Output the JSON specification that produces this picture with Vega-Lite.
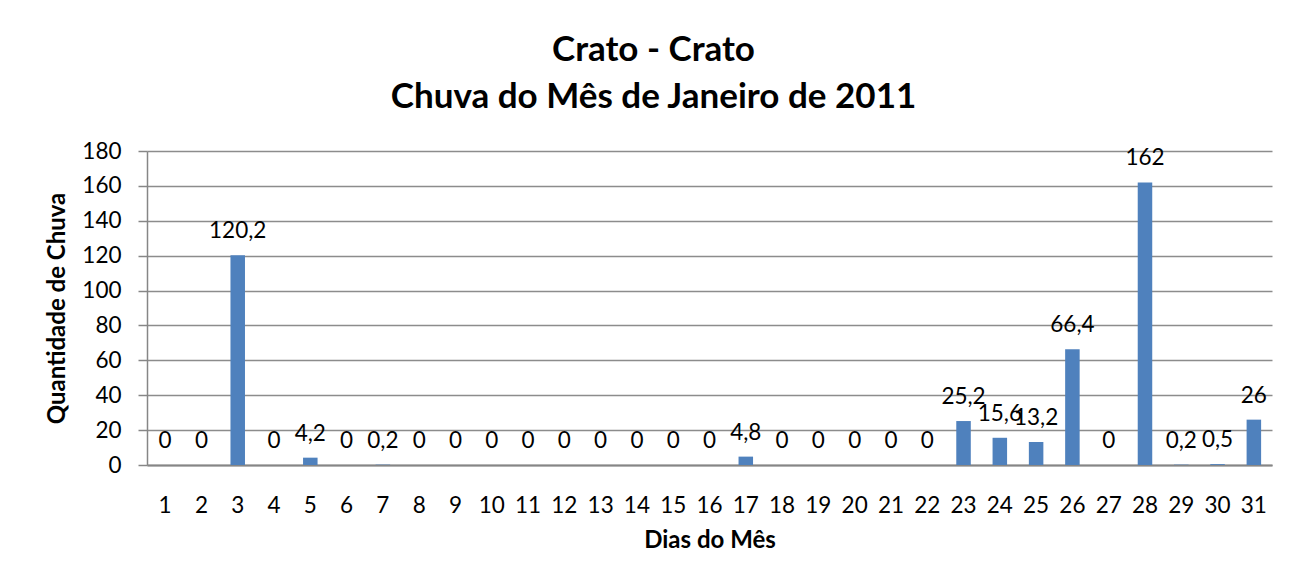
{
  "$schema": "https://vega.github.io/schema/vega-lite/v6.json",
  "autosize": {"type": "none"},
  "width": 1125,
  "height": 314,
  "padding": {"left": 147, "top": 151, "right": 34, "bottom": 121},
  "background": "white",
  "title": {
    "text": ["Crato - Crato", "Chuva do Mês de Janeiro de 2011"],
    "anchor": "middle",
    "frame": "group",
    "dx": -56,
    "offset": 25,
    "fontSize": 35,
    "fontWeight": "bold",
    "font": "Lato",
    "color": "black",
    "lineHeight": 47
  },
  "data": {
    "values": [
      {"dia": 1, "chuva": 0}, {"dia": 2, "chuva": 0}, {"dia": 3, "chuva": 120.2},
      {"dia": 4, "chuva": 0}, {"dia": 5, "chuva": 4.2}, {"dia": 6, "chuva": 0},
      {"dia": 7, "chuva": 0.2}, {"dia": 8, "chuva": 0}, {"dia": 9, "chuva": 0},
      {"dia": 10, "chuva": 0}, {"dia": 11, "chuva": 0}, {"dia": 12, "chuva": 0},
      {"dia": 13, "chuva": 0}, {"dia": 14, "chuva": 0}, {"dia": 15, "chuva": 0},
      {"dia": 16, "chuva": 0}, {"dia": 17, "chuva": 4.8}, {"dia": 18, "chuva": 0},
      {"dia": 19, "chuva": 0}, {"dia": 20, "chuva": 0}, {"dia": 21, "chuva": 0},
      {"dia": 22, "chuva": 0}, {"dia": 23, "chuva": 25.2}, {"dia": 24, "chuva": 15.6},
      {"dia": 25, "chuva": 13.2}, {"dia": 26, "chuva": 66.4}, {"dia": 27, "chuva": 0},
      {"dia": 28, "chuva": 162}, {"dia": 29, "chuva": 0.2}, {"dia": 30, "chuva": 0.5},
      {"dia": 31, "chuva": 26}
    ]
  },
  "encoding": {
    "x": {
      "field": "dia",
      "type": "ordinal",
      "title": "Dias do Mês",
      "scale": {"paddingInner": 0.6, "paddingOuter": 0.3},
      "axis": {
        "labelAngle": 0,
        "ticks": false,
        "labelPadding": 29,
        "labelFontSize": 22.5,
        "labelFont": "Lato",
        "labelColor": "black",
        "domainColor": "#868686",
        "domainWidth": 2,
        "titleFontSize": 24,
        "titleFont": "Lato",
        "titleFontWeight": "bold",
        "titleColor": "black",
        "titlePadding": 12,
        "grid": false
      }
    },
    "y": {
      "field": "chuva",
      "type": "quantitative",
      "title": "Quantidade de Chuva",
      "scale": {"domain": [0, 180], "nice": false},
      "axis": {
        "values": [0, 20, 40, 60, 80, 100, 120, 140, 160, 180],
        "tickSize": 9,
        "tickColor": "#868686",
        "tickWidth": 1.5,
        "labelPadding": 17,
        "labelFontSize": 22.5,
        "labelFont": "Lato",
        "labelColor": "black",
        "domainColor": "#868686",
        "domainWidth": 1.5,
        "gridColor": "#8c8c8c",
        "gridWidth": 1.5,
        "titleFontSize": 24,
        "titleFont": "Lato",
        "titleFontWeight": "bold",
        "titleColor": "black",
        "titlePadding": 12
      }
    }
  },
  "layer": [
    {"mark": {"type": "bar", "color": "#4F81BD"}},
    {
      "mark": {"type": "text", "baseline": "alphabetic", "dy": -17, "fontSize": 22.5, "font": "Lato", "color": "black"},
      "encoding": {"text": {"field": "chuva", "type": "quantitative", "format": "~f"}}
    }
  ],
  "config": {
    "view": {"stroke": null},
    "locale": {"number": {"decimal": ",", "thousands": ".", "grouping": [3], "currency": ["R$", ""]}}
  }
}
